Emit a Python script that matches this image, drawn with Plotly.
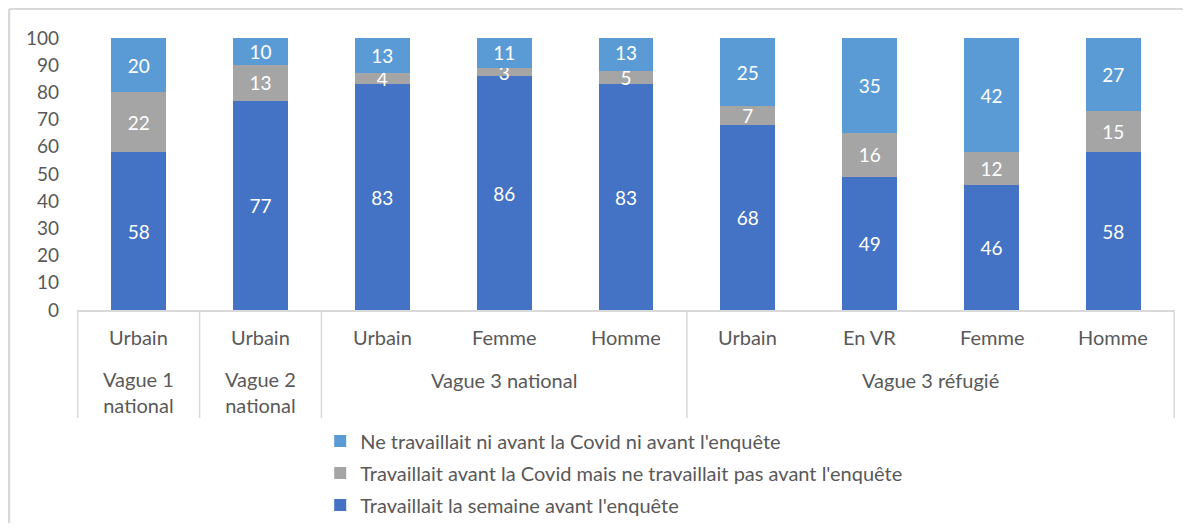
import plotly.graph_objects as go

# ── DONNÉES ──────────────────────────────────────────────────────────────────
groupes = ["Vague 1<br>national", "Vague 2<br>national", "Vague 3 national", "Vague 3 réfugié"]
taille_groupes = [1, 1, 3, 4]
categories = ["Urbain", "Urbain", "Urbain", "Femme", "Homme",
              "Urbain", "En VR", "Femme", "Homme"]

travaillait = [58, 77, 83, 86, 83, 68, 49, 46, 58]
avant_covid = [22, 13, 4, 3, 5, 7, 16, 12, 15]
ne_travaillait = [20, 10, 13, 11, 13, 25, 35, 42, 27]

y_ticks = [0, 10, 20, 30, 40, 50, 60, 70, 80, 90, 100]

SERIES = [
    ("Travaillait la semaine avant l'enquête", travaillait, "#4472C4"),
    ("Travaillait avant la Covid mais ne travaillait pas avant l'enquête", avant_covid, "#A5A5A5"),
    ("Ne travaillait ni avant la Covid ni avant l'enquête", ne_travaillait, "#5B9BD5"),
]

FONT = "Lato, 'Open Sans', sans-serif"
TAILLE = 20
GRIS_TEXTE = "#595959"
GRIS_LIGNE = "#D9D9D9"

# clés uniques pour l'axe catégoriel (les libellés se répètent)
cles = [f"c{i}" for i in range(len(categories))]

fig = go.Figure()
for i, (nom, valeurs, couleur) in enumerate(SERIES):
    fig.add_trace(go.Bar(
        x=cles,
        y=valeurs,
        name=nom,
        legendgroup=f"g{i}",
        legendrank=len(SERIES) - i,   # légende dans l'ordre inverse de l'empilement
        marker=dict(color=couleur, line=dict(width=0)),
        text=[str(v) for v in valeurs],
        textposition="inside",
        insidetextanchor="middle",
        constraintext="none",
        textangle=0,
        textfont=dict(color="white", size=19, family=FONT),
    ))

# libellés niveau 1 (catégories)
for cle, lib in zip(cles, categories):
    fig.add_annotation(x=cle, y=-0.099, xref="x", yref="paper",
                       text=lib, showarrow=False, yanchor="middle",
                       font=dict(size=TAILLE, color=GRIS_TEXTE))

# libellés niveau 2 (groupes) + séparateurs verticaux
debut = 0
fig.add_shape(type="line", xref="x", yref="paper", x0=-0.5, x1=-0.5,
              y0=0, y1=-0.397, line=dict(color=GRIS_LIGNE, width=1.5))
for g, n in zip(groupes, taille_groupes):
    centre = debut + (n - 1) / 2
    y_lib = -0.303 if "<br>" in g else -0.257
    fig.add_annotation(x=centre, y=y_lib, xref="x", yref="paper",
                       text=g, showarrow=False, yanchor="middle",
                       font=dict(size=TAILLE, color=GRIS_TEXTE))
    debut += n
    fig.add_shape(type="line", xref="x", yref="paper", x0=debut - 0.5, x1=debut - 0.5,
                  y0=0, y1=-0.397, line=dict(color=GRIS_LIGNE, width=1.5))

# cadre du graphique (bords gauche et haut visibles)
fig.add_shape(type="line", xref="paper", yref="paper",
              x0=-0.0619, x1=-0.0619, y0=1.1066, y1=-0.82,
              line=dict(color=GRIS_LIGNE, width=2.5))
fig.add_shape(type="line", xref="paper", yref="paper",
              x0=-0.0619, x1=1.02, y0=1.1066, y1=1.1066,
              line=dict(color=GRIS_LIGNE, width=2))

# la page ajoute une marge de 8 px autour du graphique
fig.update_layout(
    width=1175, height=515,
    margin=dict(l=69, r=8, t=30, b=213, autoexpand=False),
    barmode="stack",
    bargap=0.55,
    plot_bgcolor="white",
    paper_bgcolor="white",
    font=dict(family=FONT, size=TAILLE, color=GRIS_TEXTE),
    xaxis=dict(
        type="category", automargin=False,
        showgrid=False, showticklabels=False,
        showline=True, linecolor=GRIS_LIGNE, linewidth=1.5,
        ticks="",
    ),
    yaxis=dict(
        range=[0, 100], tickvals=y_ticks, automargin=False,
        showgrid=False, zeroline=False, showline=False,
        ticks="", ticklabelstandoff=17,
        tickfont=dict(size=19, color=GRIS_TEXTE),
    ),
    legend=dict(
        orientation="v", traceorder="grouped",
        x=0.2215, xanchor="left", y=-0.41, yanchor="top",
        font=dict(size=TAILLE, color=GRIS_TEXTE),
        itemwidth=30, tracegroupgap=3,
    ),
)

fig.write_html("out.html")
